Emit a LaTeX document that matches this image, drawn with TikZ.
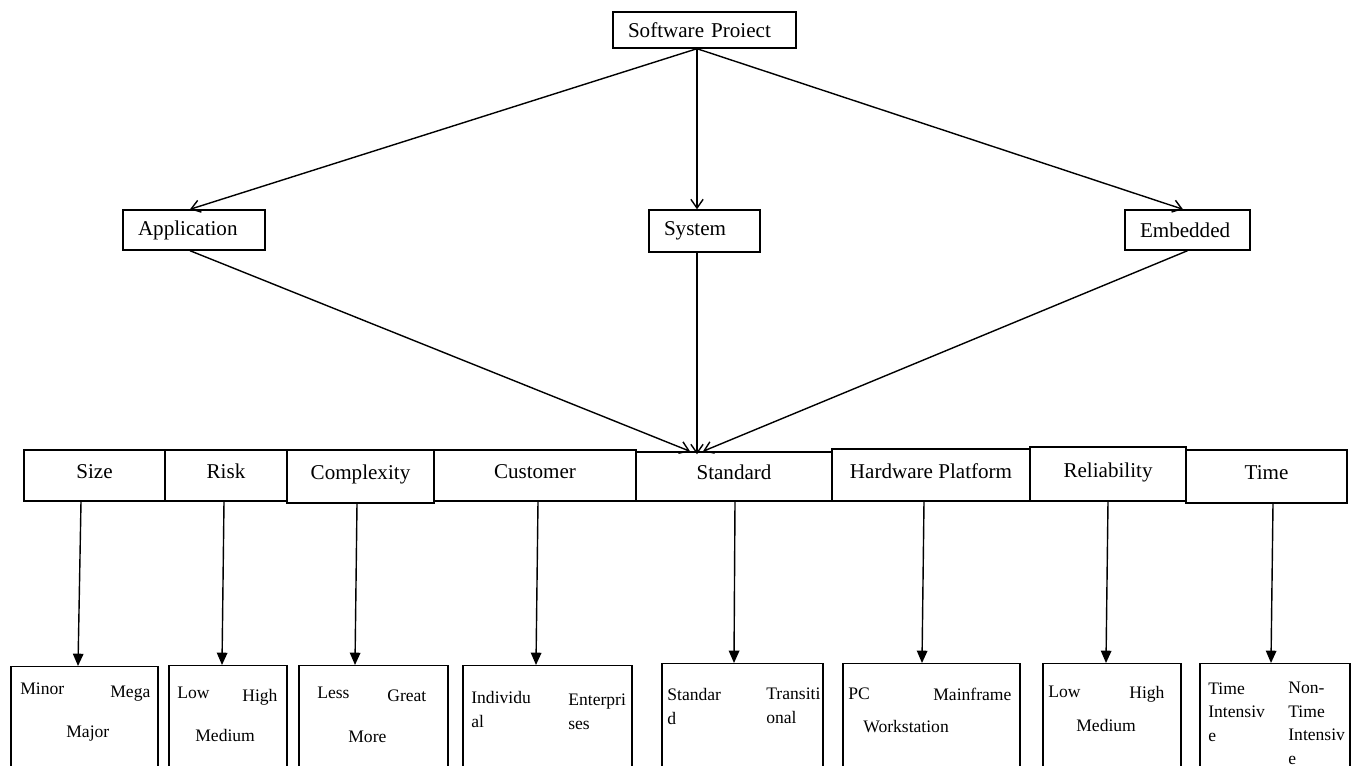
\documentclass[tikz,border=0pt]{standalone}
\usepackage{fontspec}
\setmainfont{Liberation Serif}
\usetikzlibrary{arrows.meta}
\usetikzlibrary{positioning}

\begin{document}
\begin{tikzpicture}[x=0.02cm, y=-0.02cm,
    boite/.style={draw, line width=0.8pt, inner sep=0pt},
    titre/.style={boite, align=left, inner xsep=15*\px, font=\fontsize{12pt}{14pt}\selectfont},
    entete/.style={boite, align=center, text height=8pt, text depth=4.4pt, font=\fontsize{12pt}{14pt}\selectfont},
    valeur/.style={anchor=base west, align=left, inner sep=0pt, font=\fontsize{10pt}{13.3pt}\selectfont},
    fleche/.style={line width=0.8pt, -{Straight Barb[length=5pt,width=7pt]}},
    flechebas/.style={line width=0.8pt, -{Triangle[length=7pt,width=6pt]}}]
    \def\px{0.02cm} % un pixel de l'image
    \useasboundingbox (0,0) rectangle (1356,766);
    \clip (0,0) rectangle (1356,766);

    % Niveau du haut
    \node[titre, text width=153*\px, minimum height=36*\px] (projet) at (704.5,30) {Software Proiect};
    \node[titre, text width=112*\px, minimum height=40*\px] (app) at (194,230) {Application};
    \node[titre, text width=81*\px, minimum height=42*\px] (sys) at (704.5,231) {System};
    \node[titre, text width=95*\px, minimum height=40*\px] (emb) at (1187.5,230) {Embedded};

    % Rangée des critères
    \foreach \n/\xa/\xb/\yt/\yb/\lab in {size/24/165/450/501/Size, risk/165/287/450/501/Risk,
        complexity/287/434/450/503/Complexity, customer/434/636/450/501/Customer,
        standard/636/832/452/501/Standard, hardware/832/1030/449/501/Hardware Platform,
        reliability/1030/1186/447/501/Reliability, time/1186/1347/450/503/Time} {
        \node[entete, minimum width={(\xb-\xa)*\px}, minimum height={(\yb-\yt)*\px}] (\n) at ({(\xa+\xb)/2},{(\yt+\yb)/2}) {\lab};
    }

    % Boîtes des valeurs (coupées en bas)
    \foreach \n/\xa/\xb/\yt in {vsize/11/158/666, vrisk/169/287/665, vcomplexity/299/448/665,
        vcustomer/463/632/665, vstandard/662/823/663, vhardware/843/1020/663,
        vreliability/1043/1181/663, vtime/1200/1350/663} {
        \node[boite, anchor=north, minimum width={(\xb-\xa)*\px}, minimum height=140*\px] (\n) at ({(\xa+\xb)/2},\yt) {};
    }

    % Textes des valeurs (y = ligne de base de la dernière ligne)
    \foreach \x/\y/\t [count=\k] in {20/694/Minor, 110/697/Mega, 66/737/Major,
        177/698/Low, 242/702/High, 195/741/Medium,
        317/698/Less, 387/702/Great, 348/742/More,
        471/727/{Individu\\al}, 568/729/{Enterpri\\ses},
        667/724/{Standar\\d}, 766/723/{Transiti\\onal},
        848/699/PC, 933/700/Mainframe, 863/732/Workstation,
        1048/697/Low, 1129/698/High, 1076/731/Medium,
        1208/741/{Time\\Intensiv\\e}, 1288/764/{Non-\\Time\\Intensiv\\e}} {
        \node[valeur] (val\k) at (\x,\y) {\t};
    }

    % Flèches du haut
    \draw[fleche] ([xshift=-7.5*\px]projet.south) -- ([xshift=-4*\px]app.north);
    \draw[fleche] ([xshift=-7.5*\px]projet.south) -- ([xshift=-7.5*\px]sys.north);
    \draw[fleche] ([xshift=-7.5*\px]projet.south) -- ([xshift=-4.5*\px]emb.north);
    \draw[fleche] ([xshift=-4*\px]app.south) -- ([xshift=-44*\px]standard.north);
    \draw[fleche] ([xshift=-7.5*\px]sys.south) -- ([xshift=-37*\px,yshift=-3*\px]standard.north);
    \draw[fleche] (emb.south) -- ([xshift=-31*\px]standard.north);

    % Flèches vers les valeurs
    \foreach \h/\s/\e in {size/-13.5/-6.5, risk/-2/-6, complexity/-3.5/-18.5, customer/3/-11.5,
        standard/1/-8.5, hardware/-7/-9.5, reliability/0/-6, time/6.5/-4} {
        \draw[flechebas] ([xshift=\s*\px]\h.south) -- ([xshift=\e*\px]v\h.north);
    }
\end{tikzpicture}
\end{document}
